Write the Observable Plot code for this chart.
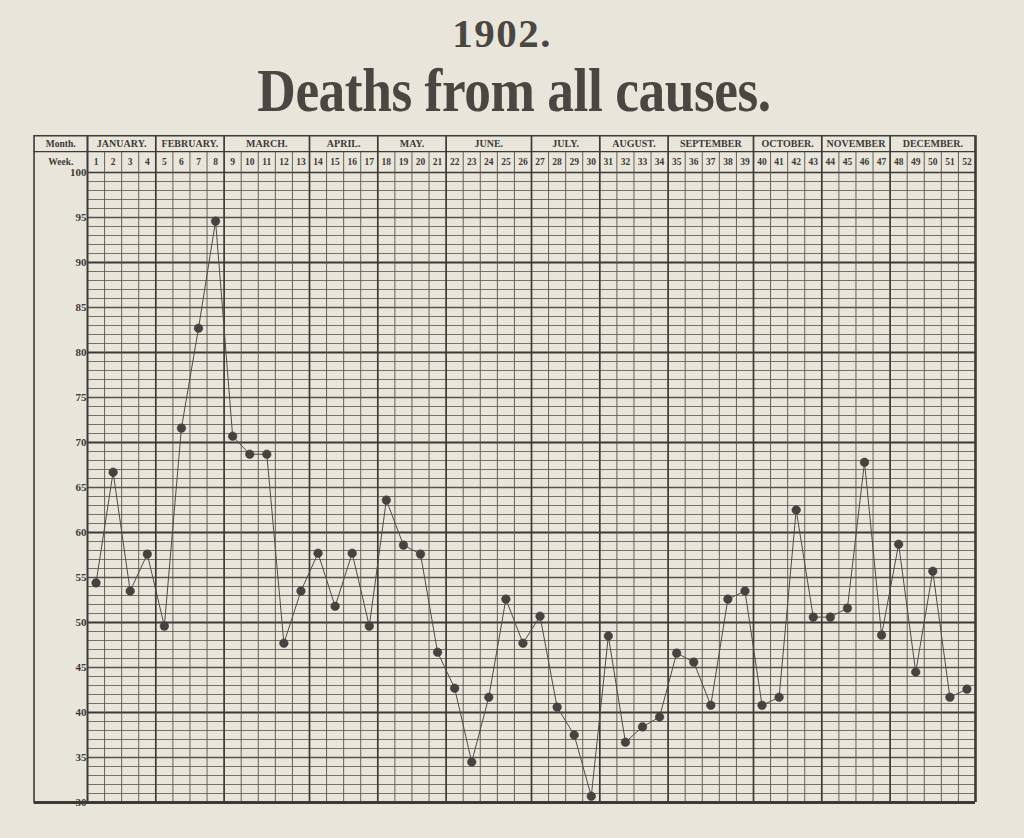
<!DOCTYPE html>
<html>
<head>
<meta charset="utf-8">
<script src="https://cdn.jsdelivr.net/npm/d3@7"></script>
<script src="https://cdn.jsdelivr.net/npm/@observablehq/plot@0.6"></script>
<style>
  body { margin: 0; background: #e8e5da; width: 1024px; height: 838px; overflow: hidden; }
  #title { height: 133px; position: relative; font-family: "Liberation Serif", serif; color: #4a4742; }
  #year { position: absolute; top: 17px; left: -10px; width: 1024px; text-align: center; font-size: 41px; line-height: 0.8; font-weight: bold; letter-spacing: 1.5px; }
  #main { position: absolute; top: 66px; left: 2px; width: 1024px; text-align: center; font-size: 62px; line-height: 0.8; font-weight: bold; transform: scaleX(0.86); letter-spacing: -0.5px; }
  #chart svg { display: block; }
</style>
</head>
<body>
<div id="title">
  <div id="year">1902.</div>
  <div id="main">Deaths from all causes.</div>
</div>
<div id="chart"></div>
<script>
// ---- data ----
const weeks = d3.range(1, 53);
const deaths = [
  54.4, 66.7, 53.5, 57.6, 49.6, 71.6, 82.7, 94.6, 70.7, 68.7,
  68.7, 47.7, 53.5, 57.7, 51.8, 57.7, 49.6, 63.6, 58.6, 57.6,
  46.7, 42.7, 34.5, 41.7, 52.6, 47.7, 50.7, 40.6, 37.5, 30.7,
  48.5, 36.7, 38.4, 39.5, 46.6, 45.6, 40.8, 52.6, 53.5, 40.8,
  41.7, 62.5, 50.6, 50.6, 51.6, 67.8, 48.6, 58.7, 44.5, 55.7,
  41.7, 42.6
];
const months = ["JANUARY.", "FEBRUARY.", "MARCH.", "APRIL.", "MAY.", "JUNE.",
  "JULY.", "AUGUST.", "SEPTEMBER", "OCTOBER.", "NOVEMBER", "DECEMBER."];
const monthWeekCounts = [4, 4, 5, 4, 4, 5, 4, 4, 5, 4, 4, 5];
const yTicks = [100, 95, 90, 85, 80, 75, 70, 65, 60, 55, 50, 45, 40, 35, 30];
const rowLabels = ["Month.", "Week."];

// ---- derived tables ----
const series = weeks.map((w, i) => ({ week: w, deaths: deaths[i] }));
let acc = 0;
const monthTable = months.map((m, i) => {
  const start = acc + 1;
  acc += monthWeekCounts[i];
  return { name: m, start, end: acc, mid: (start + acc) / 2 };
});
const monthBounds = [0.5, ...monthTable.map(d => d.end + 0.5)];
const weekBounds = d3.range(1.5, 52.5, 1).filter(b => !monthBounds.includes(b));

// layout in scale units (header rows above 100)
const yWeekTop = 102.33, yTop = 104.08, yMonthText = 103.2, yWeekText = 101.2;
const xLeft = -2.63, xLabelCol = (xLeft + 0.5) / 2;

const ink = "#3d3a36", grid = "#575349";
const minor = d3.range(31, 100).filter(v => v % 5 !== 0);
const fives = d3.range(35, 100, 10);
const tens = d3.range(40, 100, 10);

const chart = Plot.plot({
  width: 1024,
  height: 705,
  marginLeft: 87,
  marginRight: 49,
  marginTop: 39,
  marginBottom: 36,
  x: { domain: [0.5, 52.5], axis: null },
  y: { domain: [30, 100], axis: null },
  style: { background: "transparent", overflow: "visible" },
  marks: [
    // horizontal grid
    Plot.ruleY(minor, { x1: 0.5, x2: 52.5, stroke: grid, strokeWidth: 0.8 }),
    Plot.ruleY(fives, { x1: 0.5, x2: 52.5, stroke: grid, strokeWidth: 1.3 }),
    Plot.ruleY(tens, { x1: 0.5, x2: 52.5, stroke: ink, strokeWidth: 2 }),
    Plot.ruleY([100], { x1: 0.5, x2: 52.5, stroke: ink, strokeWidth: 1.6 }),
    // vertical grid
    Plot.ruleX(weekBounds, { y1: 30, y2: yWeekTop, stroke: grid, strokeWidth: 0.9 }),
    Plot.ruleX(monthBounds.slice(1, -1), { y1: 30, y2: yTop, stroke: ink, strokeWidth: 1.7 }),
    // frame
    Plot.ruleX([0.5], { y1: 30, y2: yTop, stroke: ink, strokeWidth: 2 }),
    Plot.ruleX([52.5], { y1: 30, y2: yTop, stroke: ink, strokeWidth: 2.6 }),
    Plot.ruleX([xLeft], { y1: 30, y2: yTop, stroke: ink, strokeWidth: 1.6 }),
    Plot.ruleY([30], { x1: xLeft, x2: 52.5, stroke: ink, strokeWidth: 2.8 }),
    Plot.ruleY([yTop], { x1: xLeft, x2: 52.5, stroke: ink, strokeWidth: 1.6 }),
    Plot.ruleY([yWeekTop], { x1: xLeft, x2: 52.5, stroke: ink, strokeWidth: 1.2 }),
    // header text
    Plot.text(monthTable, { x: "mid", y: yMonthText, text: "name", fontSize: 10, fontWeight: "bold",
      fontFamily: "Liberation Serif, serif", fill: ink }),
    Plot.text(weeks, { x: d => d, y: yWeekText, text: d => String(d), fontSize: 9.5, fontWeight: "bold",
      fontFamily: "Liberation Serif, serif", fill: ink }),
    Plot.text([rowLabels[0]], { x: xLabelCol, y: yMonthText, text: d => d, fontSize: 9.5, fontWeight: "bold",
      fontFamily: "Liberation Serif, serif", fill: ink }),
    Plot.text([rowLabels[1]], { x: xLabelCol, y: yWeekText, text: d => d, fontSize: 9.5, fontWeight: "bold",
      fontFamily: "Liberation Serif, serif", fill: ink }),
    // y tick labels
    Plot.text(yTicks, { x: 0.5, y: d => d, text: d => String(d), textAnchor: "end", dx: -1, fontSize: 11,
      fontWeight: "bold", fontFamily: "Liberation Serif, serif", fill: ink }),
    // data
    Plot.line(series, { x: "week", y: "deaths", stroke: "#4f4c47", strokeWidth: 1 }),
    Plot.dot(series, { x: "week", y: "deaths", r: 4.3, fill: "#454240", stroke: "#3a3835", strokeWidth: 0.5 })
  ]
});
document.getElementById("chart").appendChild(chart);
</script>
</body>
</html>
